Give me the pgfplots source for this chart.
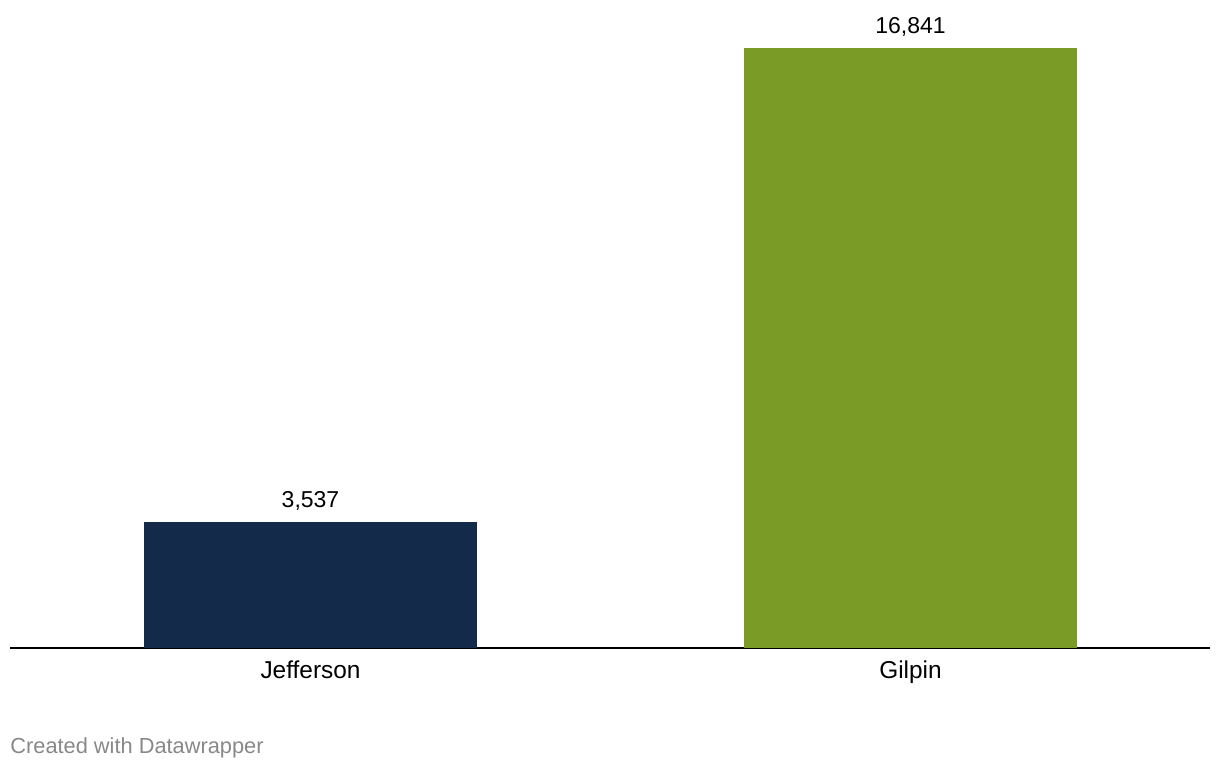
\documentclass[border=0pt]{standalone}
\usepackage{pgfplots}
\pgfplotsset{compat=1.18}
\usepackage{fontspec}
\setmainfont{Liberation Sans}
\definecolor{navy}{HTML}{142A4B}
\definecolor{olive}{HTML}{7A9C26}
\definecolor{credit}{HTML}{888888}
\begin{document}
\begin{tikzpicture}
\useasboundingbox (0pt,0pt) rectangle (610pt,384pt);
\begin{axis}[
  at={(5pt,60pt)}, anchor=south west,
  scale only axis, width=600pt, height=300pt,
  xmin=-0.50083, xmax=1.49917,
  ymin=0, ymax=16841,
  axis y line=none,
  axis x line*=bottom,
  x axis line style={-, black, line width=0.7pt},
  xtick={0,1}, xticklabels={Jefferson, Gilpin},
  major tick length=0pt,
  xticklabel style={font=\fontsize{12.2}{14}\selectfont, yshift=-3pt},
  ybar, bar width=0.555, bar shift=0pt,
  nodes near coords,
  nodes near coords style={font=\fontsize{11.5}{13}\selectfont, yshift=2pt, /pgf/number format/.cd, fixed, 1000 sep={,}, assume math mode=true},
  clip=false,
]
\addplot[draw=none, fill=navy] coordinates {(0,3537)};
\addplot[draw=none, fill=olive] coordinates {(1,16841)};
\end{axis}
\node[anchor=base west, inner sep=0, text=credit, font=\fontsize{10.9}{13}\selectfont] at (5pt,7.5pt) {Created with Datawrapper};
\end{tikzpicture}
\end{document}
